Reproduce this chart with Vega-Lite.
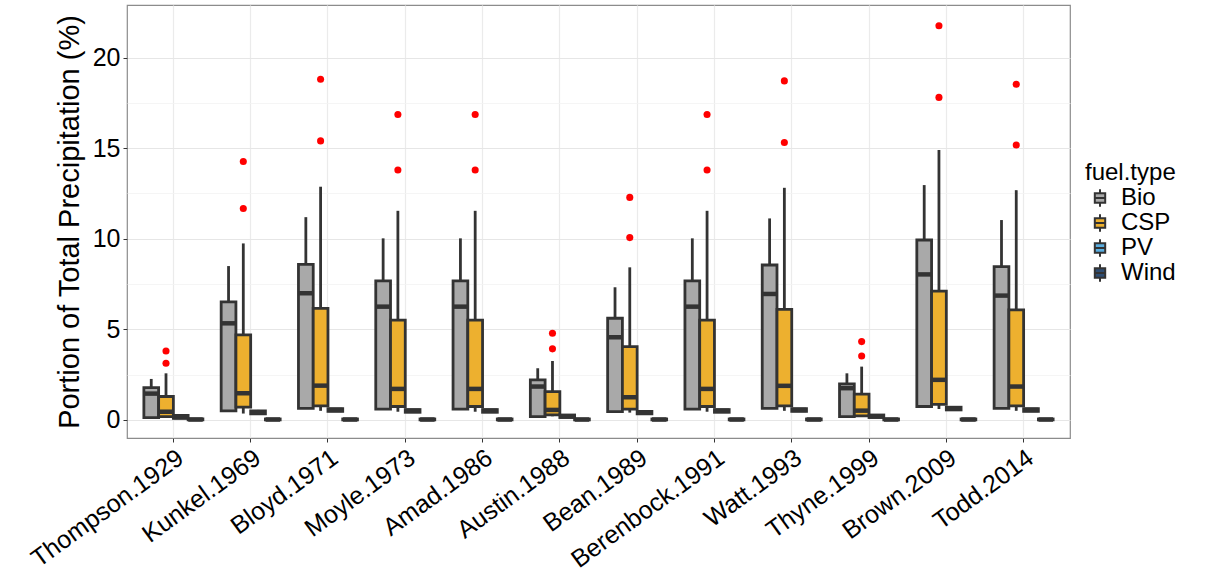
{
  "$schema": "https://vega.github.io/schema/vega-lite/v6.json",
  "width": 943,
  "height": 433,
  "autosize": {"type": "none"},
  "padding": {"left": 127, "top": 5, "right": 136, "bottom": 142},
  "background": "white",
  "config": {
    "font": "Liberation Sans",
    "view": {"stroke": "#8c8c8c", "strokeWidth": 1.2},
    "axis": {"labelFont": "Liberation Sans", "titleFont": "Liberation Sans", "domain": false},
    "legend": {"labelFont": "Liberation Sans", "titleFont": "Liberation Sans"}
  },
  "datasets": {
    "stats": [
      {"study": "Thompson.1929", "fuel": "Bio", "lower": 0.13, "q1": 0.13, "median": 1.45, "q3": 1.78, "upper": 2.26},
      {"study": "Thompson.1929", "fuel": "CSP", "lower": 0.15, "q1": 0.18, "median": 0.45, "q3": 1.29, "upper": 2.57},
      {"study": "Thompson.1929", "fuel": "PV", "lower": 0.05, "q1": 0.08, "median": 0.15, "q3": 0.25, "upper": 0.3},
      {"study": "Thompson.1929", "fuel": "Wind", "lower": 0, "q1": 0, "median": 0.02, "q3": 0.05, "upper": 0.06},
      {"study": "Kunkel.1969", "fuel": "Bio", "lower": 0.5, "q1": 0.5, "median": 5.33, "q3": 6.51, "upper": 8.49},
      {"study": "Kunkel.1969", "fuel": "CSP", "lower": 0.35, "q1": 0.7, "median": 1.47, "q3": 4.69, "upper": 9.74},
      {"study": "Kunkel.1969", "fuel": "PV", "lower": 0.3, "q1": 0.33, "median": 0.42, "q3": 0.5, "upper": 0.55},
      {"study": "Kunkel.1969", "fuel": "Wind", "lower": 0, "q1": 0, "median": 0.02, "q3": 0.05, "upper": 0.06},
      {"study": "Bloyd.1971", "fuel": "Bio", "lower": 0.64, "q1": 0.64, "median": 6.99, "q3": 8.58, "upper": 11.19},
      {"study": "Bloyd.1971", "fuel": "CSP", "lower": 0.5, "q1": 0.77, "median": 1.89, "q3": 6.16, "upper": 12.87},
      {"study": "Bloyd.1971", "fuel": "PV", "lower": 0.45, "q1": 0.47, "median": 0.55, "q3": 0.62, "upper": 0.65},
      {"study": "Bloyd.1971", "fuel": "Wind", "lower": 0, "q1": 0, "median": 0.02, "q3": 0.05, "upper": 0.06},
      {"study": "Moyle.1973", "fuel": "Bio", "lower": 0.59, "q1": 0.59, "median": 6.25, "q3": 7.67, "upper": 10.02},
      {"study": "Moyle.1973", "fuel": "CSP", "lower": 0.45, "q1": 0.74, "median": 1.71, "q3": 5.51, "upper": 11.54},
      {"study": "Moyle.1973", "fuel": "PV", "lower": 0.4, "q1": 0.42, "median": 0.5, "q3": 0.57, "upper": 0.6},
      {"study": "Moyle.1973", "fuel": "Wind", "lower": 0, "q1": 0, "median": 0.02, "q3": 0.05, "upper": 0.06},
      {"study": "Amad.1986", "fuel": "Bio", "lower": 0.59, "q1": 0.59, "median": 6.25, "q3": 7.67, "upper": 10.02},
      {"study": "Amad.1986", "fuel": "CSP", "lower": 0.45, "q1": 0.74, "median": 1.71, "q3": 5.51, "upper": 11.54},
      {"study": "Amad.1986", "fuel": "PV", "lower": 0.4, "q1": 0.42, "median": 0.5, "q3": 0.57, "upper": 0.6},
      {"study": "Amad.1986", "fuel": "Wind", "lower": 0, "q1": 0, "median": 0.02, "q3": 0.05, "upper": 0.06},
      {"study": "Austin.1988", "fuel": "Bio", "lower": 0.18, "q1": 0.18, "median": 1.84, "q3": 2.21, "upper": 2.85},
      {"study": "Austin.1988", "fuel": "CSP", "lower": 0.2, "q1": 0.28, "median": 0.55, "q3": 1.56, "upper": 3.25},
      {"study": "Austin.1988", "fuel": "PV", "lower": 0.1, "q1": 0.13, "median": 0.2, "q3": 0.27, "upper": 0.3},
      {"study": "Austin.1988", "fuel": "Wind", "lower": 0, "q1": 0, "median": 0.02, "q3": 0.05, "upper": 0.06},
      {"study": "Bean.1989", "fuel": "Bio", "lower": 0.46, "q1": 0.46, "median": 4.56, "q3": 5.61, "upper": 7.32},
      {"study": "Bean.1989", "fuel": "CSP", "lower": 0.4, "q1": 0.59, "median": 1.25, "q3": 4.04, "upper": 8.42},
      {"study": "Bean.1989", "fuel": "PV", "lower": 0.3, "q1": 0.33, "median": 0.4, "q3": 0.47, "upper": 0.5},
      {"study": "Bean.1989", "fuel": "Wind", "lower": 0, "q1": 0, "median": 0.02, "q3": 0.05, "upper": 0.06},
      {"study": "Berenbock.1991", "fuel": "Bio", "lower": 0.59, "q1": 0.59, "median": 6.25, "q3": 7.67, "upper": 10.02},
      {"study": "Berenbock.1991", "fuel": "CSP", "lower": 0.45, "q1": 0.74, "median": 1.71, "q3": 5.51, "upper": 11.54},
      {"study": "Berenbock.1991", "fuel": "PV", "lower": 0.4, "q1": 0.42, "median": 0.5, "q3": 0.57, "upper": 0.6},
      {"study": "Berenbock.1991", "fuel": "Wind", "lower": 0, "q1": 0, "median": 0.02, "q3": 0.05, "upper": 0.06},
      {"study": "Watt.1993", "fuel": "Bio", "lower": 0.64, "q1": 0.64, "median": 6.95, "q3": 8.55, "upper": 11.12},
      {"study": "Watt.1993", "fuel": "CSP", "lower": 0.5, "q1": 0.77, "median": 1.88, "q3": 6.1, "upper": 12.81},
      {"study": "Watt.1993", "fuel": "PV", "lower": 0.45, "q1": 0.47, "median": 0.55, "q3": 0.62, "upper": 0.65},
      {"study": "Watt.1993", "fuel": "Wind", "lower": 0, "q1": 0, "median": 0.02, "q3": 0.05, "upper": 0.06},
      {"study": "Thyne.1999", "fuel": "Bio", "lower": 0.18, "q1": 0.18, "median": 1.75, "q3": 1.99, "upper": 2.57},
      {"study": "Thyne.1999", "fuel": "CSP", "lower": 0.18, "q1": 0.22, "median": 0.51, "q3": 1.42, "upper": 2.94},
      {"study": "Thyne.1999", "fuel": "PV", "lower": 0.1, "q1": 0.13, "median": 0.2, "q3": 0.27, "upper": 0.3},
      {"study": "Thyne.1999", "fuel": "Wind", "lower": 0, "q1": 0, "median": 0.02, "q3": 0.05, "upper": 0.06},
      {"study": "Brown.2009", "fuel": "Bio", "lower": 0.74, "q1": 0.74, "median": 8.03, "q3": 9.93, "upper": 12.96},
      {"study": "Brown.2009", "fuel": "CSP", "lower": 0.6, "q1": 0.86, "median": 2.21, "q3": 7.11, "upper": 14.89},
      {"study": "Brown.2009", "fuel": "PV", "lower": 0.5, "q1": 0.55, "median": 0.62, "q3": 0.7, "upper": 0.72},
      {"study": "Brown.2009", "fuel": "Wind", "lower": 0, "q1": 0, "median": 0.02, "q3": 0.05, "upper": 0.06},
      {"study": "Todd.2014", "fuel": "Bio", "lower": 0.64, "q1": 0.64, "median": 6.86, "q3": 8.46, "upper": 11.03},
      {"study": "Todd.2014", "fuel": "CSP", "lower": 0.5, "q1": 0.77, "median": 1.84, "q3": 6.07, "upper": 12.68},
      {"study": "Todd.2014", "fuel": "PV", "lower": 0.45, "q1": 0.47, "median": 0.55, "q3": 0.62, "upper": 0.65},
      {"study": "Todd.2014", "fuel": "Wind", "lower": 0, "q1": 0, "median": 0.02, "q3": 0.05, "upper": 0.06}
    ],
    "outliers": [
      {"study": "Thompson.1929", "fuel": "CSP", "value": 3.13},
      {"study": "Thompson.1929", "fuel": "CSP", "value": 3.8},
      {"study": "Kunkel.1969", "fuel": "CSP", "value": 11.67},
      {"study": "Kunkel.1969", "fuel": "CSP", "value": 14.26},
      {"study": "Bloyd.1971", "fuel": "CSP", "value": 15.4},
      {"study": "Bloyd.1971", "fuel": "CSP", "value": 18.8},
      {"study": "Moyle.1973", "fuel": "CSP", "value": 13.79},
      {"study": "Moyle.1973", "fuel": "CSP", "value": 16.86},
      {"study": "Amad.1986", "fuel": "CSP", "value": 13.79},
      {"study": "Amad.1986", "fuel": "CSP", "value": 16.86},
      {"study": "Austin.1988", "fuel": "CSP", "value": 3.92},
      {"study": "Austin.1988", "fuel": "CSP", "value": 4.78},
      {"study": "Bean.1989", "fuel": "CSP", "value": 10.06},
      {"study": "Bean.1989", "fuel": "CSP", "value": 12.28},
      {"study": "Berenbock.1991", "fuel": "CSP", "value": 13.79},
      {"study": "Berenbock.1991", "fuel": "CSP", "value": 16.86},
      {"study": "Watt.1993", "fuel": "CSP", "value": 15.31},
      {"study": "Watt.1993", "fuel": "CSP", "value": 18.71},
      {"study": "Thyne.1999", "fuel": "CSP", "value": 3.53},
      {"study": "Thyne.1999", "fuel": "CSP", "value": 4.32},
      {"study": "Brown.2009", "fuel": "CSP", "value": 17.8},
      {"study": "Brown.2009", "fuel": "CSP", "value": 21.75},
      {"study": "Todd.2014", "fuel": "CSP", "value": 15.17},
      {"study": "Todd.2014", "fuel": "CSP", "value": 18.53}
    ]
  },
  "encoding": {
    "x": {
      "field": "study", "type": "nominal", "sort": null,
      "scale": {"paddingInner": 0, "paddingOuter": 0.1,
        "domain": ["Thompson.1929","Kunkel.1969","Bloyd.1971","Moyle.1973","Amad.1986","Austin.1988","Bean.1989","Berenbock.1991","Watt.1993","Thyne.1999","Brown.2009","Todd.2014"]},
      "axis": {
        "title": null, "labelAngle": -36, "labelAlign": "right", "labelBaseline": "top",
        "labelFontSize": 25, "labelColor": "#000000", "labelPadding": 3, "labelLimit": 0, "labelOverlap": false,
        "grid": true, "gridColor": "#ebebeb", "gridWidth": 1.2,
        "ticks": true, "tickColor": "#333333", "tickSize": 4, "tickWidth": 1
      }
    },
    "xOffset": {
      "field": "fuel", "type": "nominal",
      "scale": {"domain": ["Bio", "CSP", "PV", "Wind"], "paddingInner": 0, "paddingOuter": 0.62}
    }
  },
  "layer": [
    {
      "data": {"name": "stats"},
      "mark": {"type": "rule", "color": "#333333", "strokeWidth": 2.8},
      "encoding": {
        "y": {
          "field": "lower", "type": "quantitative",
          "scale": {"domain": [-1.0, 22.9], "nice": false, "zero": false},
          "axis": {
            "title": "Portion of Total Precipitation (%)", "titleFontSize": 29, "titleFontWeight": "normal",
            "titleColor": "#000000", "titlePadding": 8,
            "values": [0, 2.5, 5, 7.5, 10, 12.5, 15, 17.5, 20],
            "labelExpr": "datum.value % 5 === 0 ? datum.label : ''",
            "labelFontSize": 25, "labelColor": "#000000", "labelPadding": 3,
            "grid": true,
            "gridColor": {"condition": {"test": "datum.value % 5 === 0", "value": "#e6e6e6"}, "value": "#f3f3f3"},
            "gridWidth": {"condition": {"test": "datum.value % 5 === 0", "value": 1.2}, "value": 0.8},
            "tickColor": "#333333", "tickSize": 4, "tickWidth": 1,
            "tickOpacity": {"condition": {"test": "datum.value % 5 === 0", "value": 1}, "value": 0}
          }
        },
        "y2": {"field": "upper"}
      }
    },
    {
      "data": {"name": "stats"},
      "mark": {"type": "bar", "stroke": "#333333", "strokeWidth": 2.8, "width": {"band": 1}},
      "encoding": {
        "y": {"field": "q1", "type": "quantitative"},
        "y2": {"field": "q3"},
        "fill": {
          "field": "fuel", "type": "nominal",
          "scale": {"domain": ["Bio", "CSP", "PV", "Wind"], "range": ["#a9a9a9", "#edb02f", "#5aaee0", "#2e4d72"]},
          "legend": {
            "title": "fuel.type", "titleFontSize": 24, "titleFontWeight": "normal", "titleColor": "#000000",
            "labelFontSize": 24, "labelColor": "#000000",
            "orient": "none", "legendX": 958, "legendY": 156,
            "symbolType": "M-0.6,-0.55H0.6V0.55H-0.6Z M-0.6,0H0.6 M0,-0.55V-1 M0,0.55V1",
            "symbolStrokeColor": "#333333", "symbolStrokeWidth": 2, "symbolSize": 300, "symbolOffset": 3,
            "rowPadding": -1, "titlePadding": 1, "labelOffset": 9
          }
        }
      }
    },
    {
      "data": {"name": "stats"},
      "mark": {"type": "tick", "color": "#333333", "thickness": 4.5, "size": 14.5, "opacity": 1},
      "encoding": {
        "y": {"field": "median", "type": "quantitative"}
      }
    },
    {
      "data": {"name": "outliers"},
      "mark": {"type": "circle", "color": "#ff0000", "opacity": 1, "size": 50},
      "encoding": {
        "y": {"field": "value", "type": "quantitative"}
      }
    }
  ]
}
